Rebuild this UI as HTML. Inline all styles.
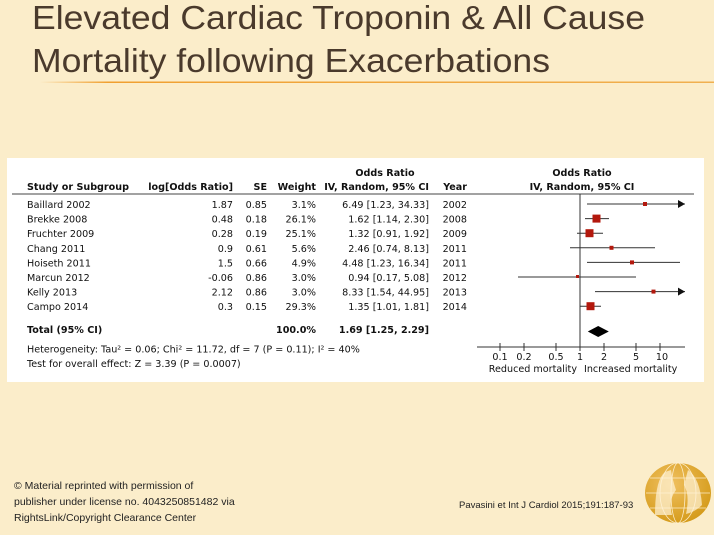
<!DOCTYPE html>
<html><head><meta charset="utf-8"><style>
html,body{margin:0;padding:0;}
body{width:714px;height:535px;background:#fbedca;overflow:hidden;position:relative;font-family:"Liberation Sans",sans-serif;}
</style></head><body>
<svg width="714" height="535" xmlns="http://www.w3.org/2000/svg" style="position:absolute;left:0;top:0">
<defs>
<linearGradient id="ln" x1="0" x2="1"><stop offset="0" stop-color="#fbedca"/><stop offset="0.1" stop-color="#f0a030"/><stop offset="1" stop-color="#f0b050"/></linearGradient>
<radialGradient id="gl" cx="0.4" cy="0.35" r="0.7"><stop offset="0" stop-color="#f0c060"/><stop offset="1" stop-color="#d49a18"/></radialGradient>
</defs>
<text x="32" y="29" font-family="Liberation Sans" font-size="33" fill="#4a3a2c" textLength="613" lengthAdjust="spacingAndGlyphs">Elevated Cardiac Troponin &amp; All Cause</text>
<text x="32" y="72" font-family="Liberation Sans" font-size="33" fill="#4a3a2c" textLength="518" lengthAdjust="spacingAndGlyphs">Mortality following Exacerbations</text>
<rect x="40" y="81.5" width="674" height="1.5" fill="url(#ln)"/>
<rect x="7" y="158" width="697" height="224" fill="#fff"/>
<g font-family="DejaVu Sans" font-size="9.6" fill="#111">
<g font-weight="bold">
<text x="385" y="176" text-anchor="middle">Odds Ratio</text>
<text x="27" y="190">Study or Subgroup</text>
<text x="233" y="190" text-anchor="end">log[Odds Ratio]</text>
<text x="267" y="190" text-anchor="end">SE</text>
<text x="316" y="190" text-anchor="end">Weight</text>
<text x="429" y="190" text-anchor="end">IV, Random, 95% CI</text>
<text x="467" y="190" text-anchor="end">Year</text>
<text x="582" y="176" text-anchor="middle">Odds Ratio</text>
<text x="582" y="190" text-anchor="middle">IV, Random, 95% CI</text>
<text x="27" y="333">Total (95% CI)</text>
<text x="316" y="333" text-anchor="end">100.0%</text>
<text x="429" y="333" text-anchor="end">1.69 [1.25, 2.29]</text>
</g>
<line x1="12" y1="194" x2="694" y2="194" stroke="#444" stroke-width="1"/>
<g>
<text x="27" y="208">Baillard 2002</text><text x="233" y="208" text-anchor="end">1.87</text><text x="267" y="208" text-anchor="end">0.85</text><text x="316" y="208" text-anchor="end">3.1%</text><text x="429" y="208" text-anchor="end">6.49 [1.23, 34.33]</text><text x="467" y="208" text-anchor="end">2002</text>
<text x="27" y="222.6">Brekke 2008</text><text x="233" y="222.6" text-anchor="end">0.48</text><text x="267" y="222.6" text-anchor="end">0.18</text><text x="316" y="222.6" text-anchor="end">26.1%</text><text x="429" y="222.6" text-anchor="end">1.62 [1.14, 2.30]</text><text x="467" y="222.6" text-anchor="end">2008</text>
<text x="27" y="237.2">Fruchter 2009</text><text x="233" y="237.2" text-anchor="end">0.28</text><text x="267" y="237.2" text-anchor="end">0.19</text><text x="316" y="237.2" text-anchor="end">25.1%</text><text x="429" y="237.2" text-anchor="end">1.32 [0.91, 1.92]</text><text x="467" y="237.2" text-anchor="end">2009</text>
<text x="27" y="251.8">Chang 2011</text><text x="233" y="251.8" text-anchor="end">0.9</text><text x="267" y="251.8" text-anchor="end">0.61</text><text x="316" y="251.8" text-anchor="end">5.6%</text><text x="429" y="251.8" text-anchor="end">2.46 [0.74, 8.13]</text><text x="467" y="251.8" text-anchor="end">2011</text>
<text x="27" y="266.4">Hoiseth 2011</text><text x="233" y="266.4" text-anchor="end">1.5</text><text x="267" y="266.4" text-anchor="end">0.66</text><text x="316" y="266.4" text-anchor="end">4.9%</text><text x="429" y="266.4" text-anchor="end">4.48 [1.23, 16.34]</text><text x="467" y="266.4" text-anchor="end">2011</text>
<text x="27" y="281">Marcun 2012</text><text x="233" y="281" text-anchor="end">-0.06</text><text x="267" y="281" text-anchor="end">0.86</text><text x="316" y="281" text-anchor="end">3.0%</text><text x="429" y="281" text-anchor="end">0.94 [0.17, 5.08]</text><text x="467" y="281" text-anchor="end">2012</text>
<text x="27" y="295.6">Kelly 2013</text><text x="233" y="295.6" text-anchor="end">2.12</text><text x="267" y="295.6" text-anchor="end">0.86</text><text x="316" y="295.6" text-anchor="end">3.0%</text><text x="429" y="295.6" text-anchor="end">8.33 [1.54, 44.95]</text><text x="467" y="295.6" text-anchor="end">2013</text>
<text x="27" y="310.2">Campo 2014</text><text x="233" y="310.2" text-anchor="end">0.3</text><text x="267" y="310.2" text-anchor="end">0.15</text><text x="316" y="310.2" text-anchor="end">29.3%</text><text x="429" y="310.2" text-anchor="end">1.35 [1.01, 1.81]</text><text x="467" y="310.2" text-anchor="end">2014</text>
</g>
<text x="27" y="352.5">Heterogeneity: Tau² = 0.06; Chi² = 11.72, df = 7 (P = 0.11); I² = 40%</text>
<text x="27" y="367">Test for overall effect: Z = 3.39 (P = 0.0007)</text>
<line x1="580" y1="194" x2="580" y2="347" stroke="#333" stroke-width="1"/>
<g stroke="#333" stroke-width="1">
<line x1="587" y1="204" x2="685" y2="204"/><line x1="585" y1="218.6" x2="609" y2="218.6"/><line x1="577" y1="233.2" x2="603" y2="233.2"/><line x1="570" y1="247.8" x2="655" y2="247.8"/><line x1="587" y1="262.4" x2="680" y2="262.4"/><line x1="518" y1="277" x2="636" y2="277"/><line x1="595" y1="291.6" x2="685" y2="291.6"/><line x1="580" y1="306.2" x2="601" y2="306.2"/>
</g>
<path d="M678 200 L685 204 L678 208Z M678 287.6 L685 291.6 L678 295.6Z" fill="#111"/>
<g fill="#b3180d">
<rect x="643" y="202" width="4" height="4"/>
<rect x="592.5" y="214.6" width="8" height="8"/>
<rect x="585.5" y="229.2" width="8" height="8"/>
<rect x="609.5" y="245.8" width="4" height="4"/>
<rect x="630" y="260.4" width="4" height="4"/>
<rect x="576" y="275" width="3" height="3"/>
<rect x="651.5" y="289.6" width="4" height="4"/>
<rect x="586.5" y="302.2" width="8" height="8"/>
</g>
<path d="M587.8 331.5 L598.2 326 L608.8 331.5 L598.2 337Z" fill="#000"/>
<line x1="477" y1="347" x2="685" y2="347" stroke="#333"/>
<g stroke="#333"><line x1="500" y1="343" x2="500" y2="351"/><line x1="524" y1="343" x2="524" y2="351"/><line x1="556" y1="343" x2="556" y2="351"/><line x1="580" y1="343" x2="580" y2="351"/><line x1="604" y1="343" x2="604" y2="351"/><line x1="636" y1="343" x2="636" y2="351"/><line x1="660" y1="343" x2="660" y2="351"/></g>
<g text-anchor="middle"><text x="500" y="360">0.1</text><text x="524" y="360">0.2</text><text x="556" y="360">0.5</text><text x="580" y="360">1</text><text x="604" y="360">2</text><text x="636" y="360">5</text><text x="662" y="360">10</text></g>
<text x="577" y="372" text-anchor="end">Reduced mortality</text>
<text x="584" y="372">Increased mortality</text>
</g>
<g font-family="Liberation Sans" font-size="10.5" fill="#222">
<text x="14" y="489">© Material reprinted with permission of</text>
<text x="14" y="505">publisher under license no. 4043250851482 via</text>
<text x="14" y="521">RightsLink/Copyright Clearance Center</text>
<text x="459" y="508" font-size="9.5">Pavasini et Int J Cardiol 2015;191:187-93</text>
</g>
<ellipse cx="678" cy="493" rx="33" ry="30" fill="url(#gl)"/>
<path d="M665 472 Q655 480 655 515 L672 515 Q668 500 676 490 Q672 478 671 470Z" fill="#fff3d8" opacity="0.7"/>
<path d="M688 470 Q700 478 702 505 Q695 512 686 514 Q690 495 684 485Z" fill="#fff3d8" opacity="0.7"/>
<g stroke="#fff3d8" stroke-width="0.8" fill="none" opacity="0.9">
<ellipse cx="678" cy="493" rx="18" ry="30"/><ellipse cx="678" cy="493" rx="7" ry="30"/>
<line x1="650" y1="478" x2="706" y2="478"/><line x1="646" y1="493" x2="710" y2="493"/><line x1="650" y1="508" x2="706" y2="508"/>
</g>
</svg>
</body></html>
